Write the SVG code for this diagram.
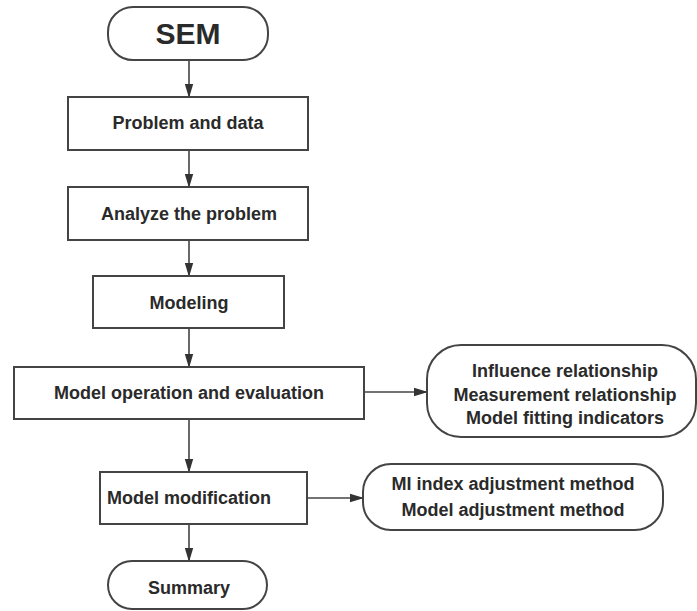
<svg xmlns="http://www.w3.org/2000/svg" width="697" height="611" viewBox="0 0 697 611">
<defs>
<marker id="ah" markerWidth="14" markerHeight="10" refX="13" refY="5" orient="auto" markerUnits="userSpaceOnUse">
<path d="M0,0.8 L14,5 L0,9.2 Z" fill="#333"/>
</marker>
<style>
.box{fill:#fff;stroke:#444;stroke-width:2}
.t{font-family:"Liberation Sans",Arial,sans-serif;font-weight:bold;font-size:18px;fill:#2a2a2a;text-anchor:middle}
.c{stroke:#444;stroke-width:1.6;fill:none;marker-end:url(#ah)}
</style>
</defs>
<rect width="697" height="611" fill="#fff"/>
<g id="connectors">
<line class="c" x1="189" y1="60" x2="189" y2="97"/>
<line class="c" x1="189" y1="150" x2="189" y2="187"/>
<line class="c" x1="189" y1="240" x2="189" y2="276"/>
<line class="c" x1="189" y1="328" x2="189" y2="367"/>
<line class="c" x1="189" y1="419" x2="189" y2="472"/>
<line class="c" x1="189" y1="524" x2="189" y2="561"/>
<line class="c" x1="364" y1="392" x2="427" y2="392"/>
<line class="c" x1="307" y1="498" x2="363" y2="498"/>
</g>
<g id="sem">
<rect class="box" x="108" y="7" width="160" height="53" rx="25" ry="25"/>
<text class="t" x="188" y="44" style="font-size:30px">SEM</text>
</g>
<g id="problem">
<rect class="box" x="68" y="97" width="240" height="53"/>
<text class="t" x="188" y="129">Problem and data</text>
</g>
<g id="analyze">
<rect class="box" x="68" y="187" width="240" height="53"/>
<text class="t" x="189" y="219.5">Analyze the problem</text>
</g>
<g id="modeling">
<rect class="box" x="93" y="276" width="191" height="52"/>
<text class="t" x="189" y="308.5">Modeling</text>
</g>
<g id="operation">
<rect class="box" x="14" y="367" width="350" height="52"/>
<text class="t" x="189" y="398.5">Model operation and evaluation</text>
</g>
<g id="results">
<rect class="box" x="427" y="345" width="269" height="92" rx="34" ry="34"/>
<text class="t" x="565" y="377">Influence relationship</text>
<text class="t" x="565" y="401">Measurement relationship</text>
<text class="t" x="565" y="424">Model fitting indicators</text>
</g>
<g id="modification">
<rect class="box" x="100" y="472" width="207" height="52"/>
<text class="t" x="189" y="503.5">Model modification</text>
</g>
<g id="methods">
<rect class="box" x="363" y="464" width="300" height="66" rx="28" ry="28"/>
<text class="t" x="513" y="490">MI index adjustment method</text>
<text class="t" x="513" y="516">Model adjustment method</text>
</g>
<g id="summary">
<rect class="box" x="108" y="561" width="159" height="48" rx="24" ry="24"/>
<text class="t" x="189" y="593.5">Summary</text>
</g>
</svg>
